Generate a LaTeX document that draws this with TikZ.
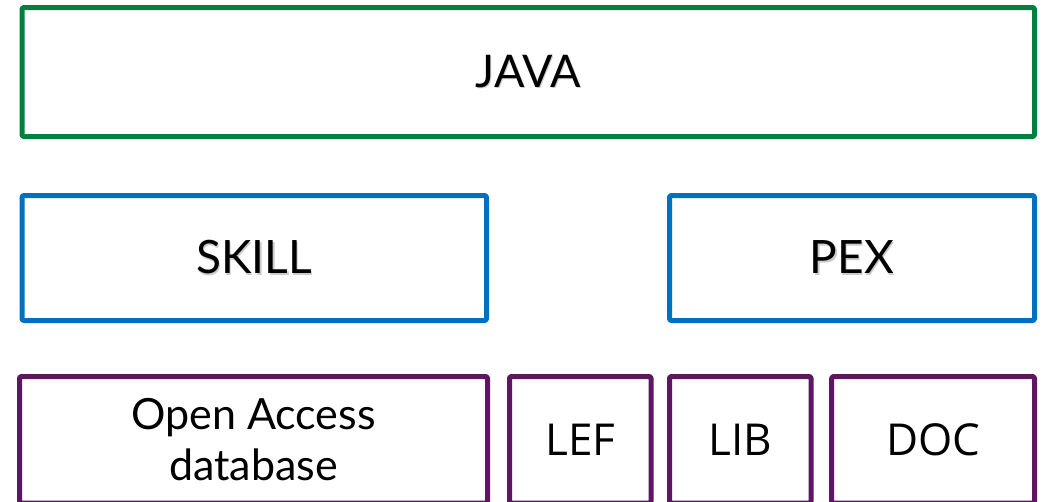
\documentclass[tikz,border=0pt]{standalone}
\usepackage{fontspec}
\setmainfont{Lato}
\newfontfamily\plainsans{Open Sans}
\definecolor{topgreen}{RGB}{0,128,62}
\definecolor{midblue}{RGB}{0,112,192}
\definecolor{basepurple}{RGB}{94,22,96}
% soft drop shadow behind a label
\newcommand\shadowed[1]{\makebox[0pt][l]{\hspace{1.3pt}\raisebox{-1.3pt}{\textcolor{black!20}{#1}}}#1}
\begin{document}
\begin{tikzpicture}[x=1pt,y=-1pt,
  layerbox/.style={draw, line width=5pt, line join=round, rounded corners=1.5pt,
    inner sep=0pt, outer sep=0pt, align=center, text=black},
  toplayer/.style={layerbox, draw=topgreen, font=\fontsize{45}{50}\selectfont},
  midlayer/.style={layerbox, draw=midblue, font=\fontsize{46}{50}\selectfont},
  baselayer/.style={layerbox, draw=basepurple},
  gillbase/.style={font=\fontsize{43}{51}\selectfont},
  plainbase/.style={font=\plainsans\fontsize{44}{50}\selectfont}]
  \clip (0,0) rectangle (1043,501);
  % top layer
  \node[toplayer, minimum width=1012.5pt, minimum height=129pt] (java) at (528.25,72) {\shadowed{JAVA}};
  % middle layer
  \node[midlayer, minimum width=464.5pt, minimum height=125pt] (skill) at (254.25,258) {\shadowed{SKILL}};
  \node[midlayer, minimum width=365pt, minimum height=125pt] (pex) at (852,258) {\shadowed{PEX}};
  % base layer
  \node[baselayer, gillbase, minimum width=468pt, minimum height=126.5pt] (oa) at (253.5,439.75) {Open Access\\database};
  \node[baselayer, plainbase, minimum width=141.5pt, minimum height=126.5pt] (lef) at (580.25,439.75) {LEF};
  \node[baselayer, plainbase, minimum width=141.5pt, minimum height=126.5pt] (lib) at (740.25,439.75) {LIB};
  \node[baselayer, plainbase, minimum width=202.8pt, minimum height=126.5pt] (doc) at (933.1,439.75) {DOC};
\end{tikzpicture}
\end{document}
